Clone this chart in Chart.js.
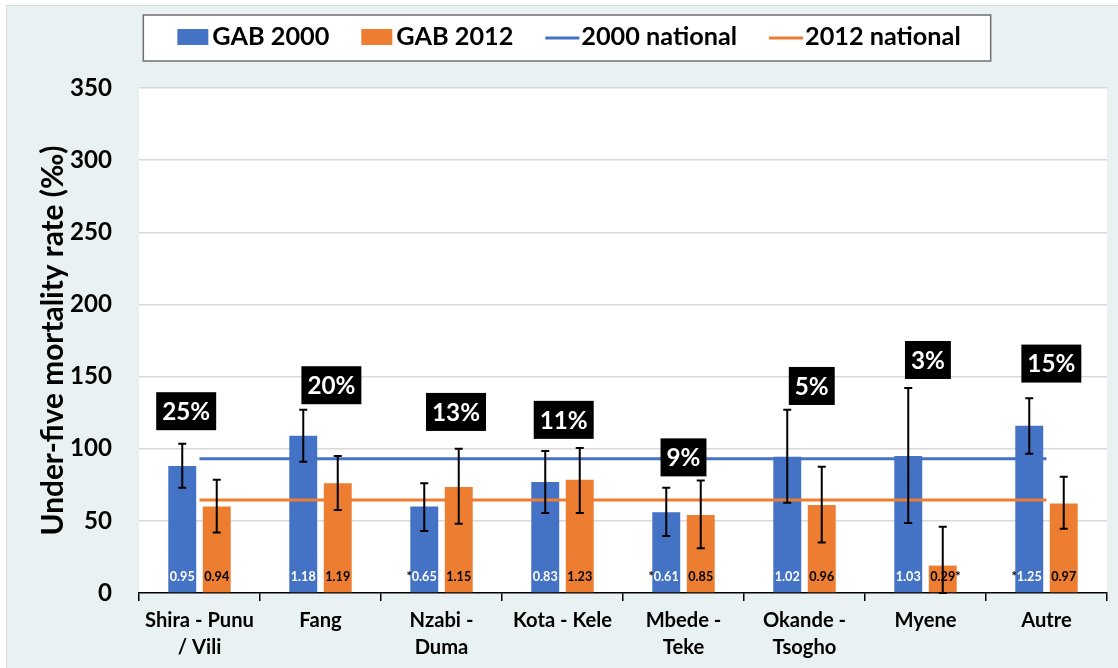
<!DOCTYPE html>
<html><head><meta charset="utf-8">
<script src="https://cdn.jsdelivr.net/npm/chart.js@4"></script>
<style>
html,body{margin:0;padding:0;background:#fff;width:1118px;height:668px;overflow:hidden}
#wrap{position:absolute;left:6px;top:5px;width:1111px;height:662px;background:#e9f1f2;border-top:1px solid #d6dcdc;border-left:1px solid #d6dcdc}
canvas{display:block}
</style></head><body>
<div id="wrap"><canvas id="c" width="1111" height="662"></canvas></div>
<script>
// ---- data ----
const categories = [['Shira - Punu','/ Vili'],'Fang',['Nzabi -','Duma'],'Kota - Kele',['Mbede -','Teke'],['Okande -','Tsogho'],'Myene','Autre'];
const gab2000     = [88, 109, 60, 77, 56, 94.5, 95, 116];
const gab2000Low  = [73, 91, 43, 55.5, 39.5, 62.5, 48.5, 96.5];
const gab2000High = [103.5, 127, 76, 98.5, 73, 127, 142, 135];
const gab2012     = [60, 76, 73.5, 78.5, 54, 61, 19, 62];
const gab2012Low  = [42, 57.5, 48, 55.5, 31, 35, 0, 44.5];
const gab2012High = [78.5, 95, 100, 100.5, 78, 87.5, 46, 80.5];
const national2000 = 93;
const national2012 = 64.5;
const ratio2000 = ['0.95','1.18','0.65','0.83','0.61','1.02','1.03','1.25'];
const ratio2012 = ['0.94','1.19','1.15','1.23','0.85','0.96','0.29','0.97'];
const star2000  = ['','','*','','*','','','*'];   // asterisk before value
const star2012  = ['','','','','','','*',''];     // asterisk after value
const gainLabels = ['25%','20%','13%','11%','9%','5%','3%','15%'];
const gainValueY = [126, 144, 125.5, 120, 94, 143.5, 161.5, 159];
const gainShift  = [-0.11, 0.09, 0.12, 0.01, 0, 0.06, 0.02, 0.04];
const yMin = 0, yMax = 350, yStep = 50;
const seriesNames = ['GAB 2000','GAB 2012','2000 national','2012 national'];

// ---- style ----
const BLUE = '#4472C4', ORANGE = '#ED7D31';
const FAM = 'Lato, "Open Sans", sans-serif';
function fitSize(text, target){
  const c = document.createElement('canvas').getContext('2d');
  c.font = 'bold 100px ' + FAM;
  return 100 * target / c.measureText(text).width;
}
const SZ = {
  yTick: fitSize('350', 42),
  xTick: fitSize('Shira - Punu', 109),
  legend: fitSize('GAB 2000', 117),
  gain: fitSize('25%', 48),
  value: fitSize('0.95', 25),
  title: fitSize('Under-five mortality rate (\u2030)', 390)
};

const bgPlugin = {
  id:'bg',
  beforeDraw(chart){
    const {ctx, chartArea:a} = chart;
    ctx.save(); ctx.fillStyle = '#fff';
    ctx.fillRect(a.left, a.top, a.right - a.left, a.bottom - a.top);
    ctx.restore();
  }
};

const errPlugin = {
  id:'err',
  afterDatasetsDraw(chart){
    const {ctx} = chart, y = chart.scales.y;
    const sets = [[0, gab2000Low, gab2000High],[1, gab2012Low, gab2012High]];
    ctx.save(); ctx.strokeStyle = '#000'; ctx.lineWidth = 2;
    sets.forEach(([di, lo, hi]) => {
      chart.getDatasetMeta(di).data.forEach((bar, i) => {
        const x = bar.x, y1 = y.getPixelForValue(lo[i]), y2 = y.getPixelForValue(hi[i]);
        ctx.beginPath();
        ctx.moveTo(x, y1); ctx.lineTo(x, y2);
        ctx.moveTo(x-4, y1); ctx.lineTo(x+4, y1);
        ctx.moveTo(x-4, y2); ctx.lineTo(x+4, y2);
        ctx.stroke();
      });
    });
    ctx.restore();
  }
};

const valuePlugin = {
  id:'vals',
  afterDatasetsDraw(chart){
    const {ctx, chartArea:a} = chart;
    ctx.save();
    ctx.font = 'bold ' + SZ.value + 'px ' + FAM;
    ctx.textBaseline = 'middle';
    const yy = a.bottom - 16;
    chart.getDatasetMeta(0).data.forEach((bar, i) => {
      const w = ctx.measureText(ratio2000[i]).width;
      ctx.textAlign = 'center'; ctx.fillStyle = '#fff';
      ctx.fillText(ratio2000[i], bar.x, yy);
      if (star2000[i]) { ctx.textAlign = 'right'; ctx.fillStyle = '#000'; ctx.fillText(star2000[i], bar.x - w/2, yy); }
    });
    chart.getDatasetMeta(1).data.forEach((bar, i) => {
      const w = ctx.measureText(ratio2012[i]).width;
      ctx.textAlign = 'center'; ctx.fillStyle = '#000';
      ctx.fillText(ratio2012[i], bar.x, yy);
      if (star2012[i]) { ctx.textAlign = 'left'; ctx.fillText(star2012[i], bar.x + w/2, yy); }
    });
    ctx.restore();
  }
};

const gainPlugin = {
  id:'gain',
  afterDraw(chart){
    const {ctx} = chart, xs = chart.scales.x, ys = chart.scales.y;
    ctx.save();
    ctx.font = 'bold ' + SZ.gain + 'px ' + FAM;
    ctx.textAlign = 'center'; ctx.textBaseline = 'middle';
    gainLabels.forEach((t, i) => {
      const step = xs.getPixelForValue(1) - xs.getPixelForValue(0);
      const cx = xs.getPixelForValue(i) + gainShift[i] * step;
      const cy = ys.getPixelForValue(gainValueY[i]);
      const w = ctx.measureText(t).width + 12, h = 38;
      ctx.fillStyle = '#000';
      ctx.fillRect(cx - w/2, cy - h/2, w, h);
      ctx.fillStyle = '#fff';
      ctx.fillText(t, cx, cy + 1);
    });
    ctx.restore();
  }
};

const legendPlugin = {
  id:'customLegend',
  afterDraw(chart){
    const {ctx} = chart;
    ctx.save();
    ctx.font = 'bold ' + SZ.legend + 'px ' + FAM;
    ctx.textBaseline = 'middle';
    const items = chart.data.datasets.map(d => ({label:d.label, color: d.type === 'line' ? d.borderColor : d.backgroundColor, line: d.type === 'line'}));
    const gap = 32;
    let total = 0;
    items.forEach(it => { it.sw = it.line ? 34 : 31; it.sg = it.line ? 2 : 4; it.tw = ctx.measureText(it.label).width; total += it.sw + it.sg + it.tw; });
    total += gap * (items.length - 1);
    const cx = 562, yc = 31;
    let x = cx - total/2;
    const left = x - 34, right = cx + total/2 + 30;
    ctx.fillStyle = '#fff'; ctx.fillRect(left, 9, right - left, 46);
    ctx.strokeStyle = '#6f6f6f'; ctx.lineWidth = 1.5; ctx.strokeRect(left, 9, right - left, 46);
    items.forEach(it => {
      if (it.line) {
        ctx.strokeStyle = it.color; ctx.lineWidth = 3;
        ctx.beginPath(); ctx.moveTo(x, yc + 1); ctx.lineTo(x + it.sw, yc + 1); ctx.stroke();
      } else {
        ctx.fillStyle = it.color; ctx.fillRect(x, yc - 8, it.sw, 16);
      }
      x += it.sw + it.sg;
      ctx.fillStyle = '#000'; ctx.textAlign = 'left';
      ctx.fillText(it.label, x, yc);
      x += it.tw + gap;
    });
    ctx.restore();
  }
};

new Chart(document.getElementById('c'), {
  type:'bar',
  data:{
    labels: categories,
    datasets:[
      {label:seriesNames[0], data:gab2000, backgroundColor:BLUE, order:2, barPercentage:0.81, categoryPercentage:0.57},
      {label:seriesNames[1], data:gab2012, backgroundColor:ORANGE, order:2, barPercentage:0.81, categoryPercentage:0.57},
      {type:'line', label:seriesNames[2], data:categories.map(() => national2000), borderColor:BLUE, backgroundColor:BLUE, borderWidth:3, pointRadius:0, order:1},
      {type:'line', label:seriesNames[3], data:categories.map(() => national2012), borderColor:ORANGE, backgroundColor:ORANGE, borderWidth:3, pointRadius:0, order:1}
    ]
  },
  options:{
    responsive:false, animation:false, devicePixelRatio:1,
    layout:{padding:{top:82, right:11, left:0, bottom:0}},
    plugins:{legend:{display:false}, tooltip:{enabled:false}},
    scales:{
      x:{
        grid:{offset:true, drawOnChartArea:false, drawTicks:true, tickLength:8, color:'#000', lineWidth:1.5},
        border:{color:'#000', width:1.5},
        ticks:{color:'#000', font:{family:FAM, weight:'bold', size:SZ.xTick, lineHeight:27/SZ.xTick}, padding:6, maxRotation:0, autoSkip:false},
        afterFit(s){ s.height = 75; }
      },
      y:{
        min:yMin, max:yMax,
        ticks:{stepSize:yStep, color:'#000', font:{family:FAM, weight:'bold', size:SZ.yTick}, padding:27},
        grid:{color:(c) => c.tick && c.tick.value === 0 ? 'rgba(0,0,0,0)' : '#d9d9d9', lineWidth:1.5, drawTicks:false},
        border:{display:false},
        title:{display:true, text:'Under-five mortality rate (\u2030)', color:'#000', font:{family:FAM, weight:'bold', size:SZ.title, lineHeight:1.2}, padding:{top:Math.round(46 - SZ.title*0.6), bottom:0}},
        afterFit(s){ s.width = 132; }
      }
    }
  },
  plugins:[bgPlugin, errPlugin, valuePlugin, gainPlugin, legendPlugin]
});
</script>
</body></html>
